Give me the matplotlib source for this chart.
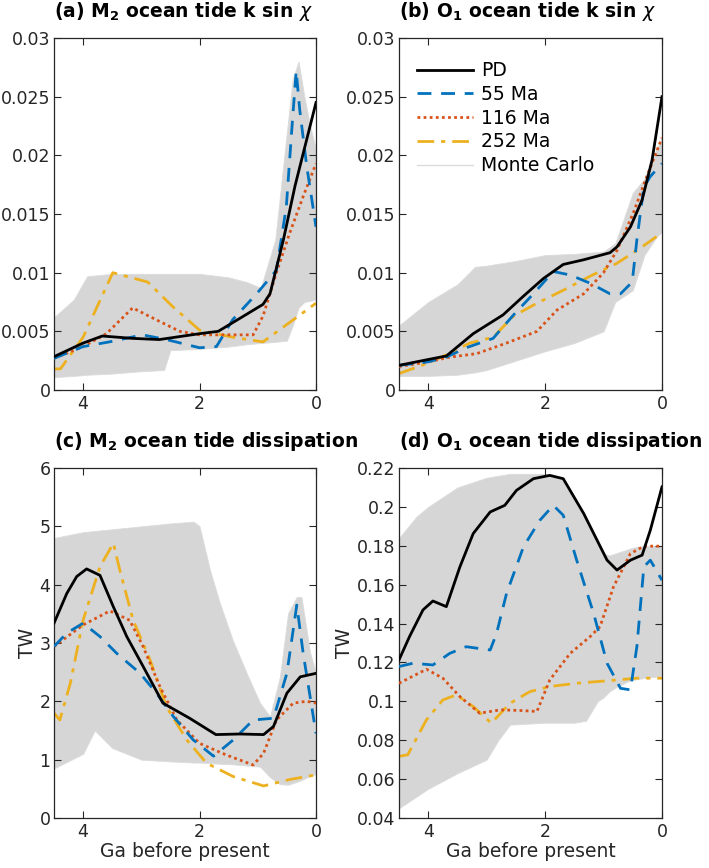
import numpy as np
import matplotlib
matplotlib.use('Agg')
import matplotlib.pyplot as plt
from matplotlib.lines import Line2D
from matplotlib.ticker import FuncFormatter

# ---- data (Ga before present, value) ----
# (a) M2 k sin chi
a_pd_x = [4.5, 4.0, 3.67, 3.15, 2.69, 2.0, 1.68, 1.31, 0.91, 0.79, 0.56, 0.36, 0.0]
a_pd_y = [0.00284, 0.0040, 0.0046, 0.0044, 0.0043, 0.0048, 0.0050, 0.0061, 0.0073, 0.0082, 0.0128, 0.0174, 0.0245]
a_55_x = [4.5, 4.0, 3.55, 2.98, 2.57, 2.0, 1.71, 1.43, 1.02, 0.68, 0.51, 0.42, 0.34, 0.28, 0.16, 0.0]
a_55_y = [0.0027, 0.0037, 0.0041, 0.0047, 0.0043, 0.0036, 0.0037, 0.0060, 0.0082, 0.0102, 0.0156, 0.0219, 0.0272, 0.0239, 0.0191, 0.0139]
a_116_x = [4.5, 4.0, 3.6, 3.15, 2.75, 2.34, 2.0, 1.43, 1.08, 0.91, 0.68, 0.45, 0.22, 0.0]
a_116_y = [0.0027, 0.0037, 0.0048, 0.0070, 0.0060, 0.0050, 0.0047, 0.0047, 0.0047, 0.0063, 0.0100, 0.0134, 0.0165, 0.0193]
a_252_x = [4.5, 4.39, 4.0, 3.49, 2.89, 2.46, 2.0, 1.43, 0.91, 0.0]
a_252_y = [0.0018, 0.0018, 0.0045, 0.0100, 0.0092, 0.0071, 0.0051, 0.0045, 0.0041, 0.0074]
a_mc_x = [4.5, 4.16, 3.93, 3.5, 3.0, 2.61, 2.5, 2.0, 1.5, 1.19, 0.95, 0.7, 0.5, 0.4, 0.3, 0.2, 0.1, 0.0]
a_mc_lo = [0.0011, 0.0012, 0.0013, 0.0014, 0.0016, 0.0017, 0.0034, 0.0035, 0.0037, 0.0039, 0.0040, 0.0041, 0.0042, 0.0055, 0.0070, 0.0075, 0.0076, 0.0077]
a_mc_hi = [0.0062, 0.0077, 0.0097, 0.0099, 0.0099, 0.0099, 0.0099, 0.0099, 0.0096, 0.0092, 0.0087, 0.0128, 0.0220, 0.0265, 0.0280, 0.0250, 0.0225, 0.0205]

# (b) O1 k sin chi
b_pd_x = [4.5, 4.0, 3.69, 3.23, 2.72, 2.37, 2.03, 1.69, 1.34, 0.89, 0.77, 0.54, 0.34, 0.17, 0.0]
b_pd_y = [0.0021, 0.0026, 0.0029, 0.0048, 0.0064, 0.0080, 0.0095, 0.0107, 0.0111, 0.0117, 0.0122, 0.0139, 0.0162, 0.0196, 0.0250]
b_55_x = [4.5, 4.0, 3.69, 3.35, 2.89, 2.54, 2.2, 1.86, 1.57, 1.23, 0.89, 0.71, 0.51, 0.43, 0.31, 0.2, 0.0]
b_55_y = [0.0021, 0.0024, 0.0028, 0.0036, 0.0044, 0.0064, 0.0082, 0.0101, 0.0098, 0.0091, 0.0082, 0.0082, 0.0092, 0.0128, 0.0173, 0.0182, 0.0193]
b_116_x = [4.5, 4.0, 3.63, 3.17, 2.66, 2.14, 1.8, 1.34, 1.0, 0.77, 0.49, 0.26, 0.0]
b_116_y = [0.0020, 0.0024, 0.0028, 0.0031, 0.0040, 0.0050, 0.0068, 0.0082, 0.0100, 0.0119, 0.0151, 0.0182, 0.0215]
b_252_x = [4.5, 4.0, 3.69, 3.29, 2.89, 2.54, 2.14, 1.69, 1.23, 0.77, 0.37, 0.0]
b_252_y = [0.0014, 0.0023, 0.0030, 0.0040, 0.0045, 0.0063, 0.0074, 0.0085, 0.0097, 0.0108, 0.0121, 0.0134]
b_mc_x = [4.5, 4.0, 3.5, 3.2, 3.0, 2.5, 2.0, 1.5, 1.0, 0.8, 0.5, 0.3, 0.1, 0.0]
b_mc_lo = [0.0012, 0.0012, 0.0013, 0.0015, 0.0017, 0.0025, 0.0033, 0.0040, 0.0050, 0.0075, 0.0085, 0.0115, 0.0130, 0.0135]
b_mc_hi = [0.0055, 0.0075, 0.0090, 0.0105, 0.0106, 0.0110, 0.0115, 0.0116, 0.0118, 0.0125, 0.0168, 0.0180, 0.0205, 0.0215]

# (c) M2 dissipation, TW
c_pd_x = [4.5, 4.28, 4.11, 3.94, 3.71, 3.48, 3.25, 2.97, 2.63, 2.17, 1.72, 1.31, 0.9, 0.73, 0.5, 0.27, 0.0]
c_pd_y = [3.34, 3.85, 4.14, 4.27, 4.16, 3.62, 3.11, 2.60, 1.97, 1.71, 1.43, 1.44, 1.43, 1.57, 2.14, 2.42, 2.48]
c_55_x = [4.5, 4.28, 4.0, 3.71, 3.42, 3.02, 2.74, 2.45, 2.11, 1.76, 1.42, 1.08, 0.73, 0.5, 0.33, 0.22, 0.0]
c_55_y = [2.94, 3.17, 3.34, 3.11, 2.82, 2.48, 2.14, 1.74, 1.34, 1.06, 1.34, 1.68, 1.71, 2.48, 3.65, 2.82, 1.45]
c_116_x = [4.5, 4.0, 3.54, 3.2, 2.97, 2.68, 2.39, 2.0, 1.54, 1.08, 0.9, 0.68, 0.39, 0.16, 0.0]
c_116_y = [2.94, 3.31, 3.55, 3.39, 2.94, 2.25, 1.68, 1.28, 1.08, 0.91, 1.11, 1.68, 1.97, 2.00, 1.97]
c_252_x = [4.5, 4.4, 4.22, 4.0, 3.71, 3.48, 3.37, 3.14, 2.85, 2.57, 2.22, 1.88, 1.42, 0.9, 0.45, 0.0]
c_252_y = [1.80, 1.68, 2.31, 3.39, 4.31, 4.71, 4.25, 3.39, 2.71, 1.91, 1.34, 0.94, 0.71, 0.55, 0.66, 0.74]
c_mc_x = [4.5, 4.0, 3.8, 3.5, 3.0, 2.5, 2.1, 2.0, 1.82, 1.65, 1.43, 1.19, 0.96, 0.79, 0.62, 0.48, 0.33, 0.25, 0.1, 0.0]
c_mc_lo = [0.85, 1.10, 1.50, 1.20, 1.00, 0.97, 0.95, 0.95, 0.94, 0.93, 0.92, 0.90, 0.88, 0.70, 0.58, 0.57, 0.62, 0.65, 0.72, 0.75]
c_mc_hi = [4.80, 4.90, 4.92, 4.95, 5.00, 5.05, 5.08, 5.00, 4.25, 3.68, 3.05, 2.48, 1.97, 1.74, 2.42, 3.51, 3.79, 3.79, 2.83, 2.48]

# (d) O1 dissipation, TW
d_pd_x = [4.5, 4.32, 4.09, 3.92, 3.69, 3.46, 3.23, 2.94, 2.69, 2.49, 2.2, 1.92, 1.69, 1.34, 0.94, 0.77, 0.54, 0.34, 0.2, 0.0]
d_pd_y = [0.1213, 0.1333, 0.1470, 0.1516, 0.1487, 0.1690, 0.1863, 0.1974, 0.2008, 0.2085, 0.2145, 0.2162, 0.2145, 0.1966, 0.1726, 0.1675, 0.1726, 0.1752, 0.1880, 0.2103]
d_55_x = [4.5, 4.26, 3.92, 3.63, 3.35, 2.94, 2.83, 2.66, 2.37, 2.09, 1.86, 1.69, 1.46, 1.17, 0.94, 0.71, 0.54, 0.43, 0.31, 0.2, 0.0]
d_55_y = [0.1179, 0.1196, 0.1187, 0.1247, 0.1281, 0.1264, 0.1350, 0.1555, 0.1795, 0.1931, 0.2008, 0.1957, 0.1726, 0.1452, 0.1196, 0.1067, 0.1059, 0.1281, 0.1692, 0.1726, 0.1623]
d_116_x = [4.5, 4.03, 3.75, 3.46, 3.12, 2.77, 2.43, 2.14, 1.92, 1.57, 1.23, 1.06, 0.83, 0.54, 0.31, 0.0]
d_116_y = [0.1093, 0.1165, 0.1119, 0.1025, 0.0939, 0.0956, 0.0953, 0.0948, 0.1110, 0.1247, 0.1333, 0.1384, 0.1589, 0.1760, 0.1798, 0.1798]
d_252_x = [4.5, 4.35, 4.03, 3.75, 3.52, 3.23, 2.92, 2.6, 2.26, 1.92, 1.46, 0.89, 0.43, 0.0]
d_252_y = [0.0717, 0.0725, 0.0905, 0.1007, 0.1033, 0.0973, 0.0888, 0.0990, 0.1050, 0.1076, 0.1093, 0.1107, 0.1119, 0.1119]
d_mc_x = [4.5, 4.2, 4.0, 3.5, 3.0, 2.8, 2.6, 2.0, 1.7, 1.5, 1.3, 1.1, 1.0, 0.9, 0.8, 0.6, 0.5, 0.3, 0.0]
d_mc_lo = [0.045, 0.051, 0.055, 0.063, 0.070, 0.080, 0.088, 0.089, 0.089, 0.089, 0.090, 0.100, 0.102, 0.105, 0.107, 0.110, 0.111, 0.112, 0.113]
d_mc_hi = [0.184, 0.195, 0.200, 0.210, 0.215, 0.216, 0.217, 0.217, 0.215, 0.205, 0.193, 0.182, 0.176, 0.175, 0.176, 0.178, 0.179, 0.180, 0.180]

titles = [r'(a) M$_\mathbf{2}$ ocean tide k sin $\chi$',
          r'(b) O$_\mathbf{1}$ ocean tide k sin $\chi$',
          r'(c) M$_\mathbf{2}$ ocean tide dissipation',
          r'(d) O$_\mathbf{1}$ ocean tide dissipation']
series_labels = ['PD', '55 Ma', '116 Ma', '252 Ma', 'Monte Carlo']

# MATLAB-like colours
c_pd = 'black'
c_55 = '#0072BD'
c_116 = '#D95319'
c_252 = '#EDB120'
c_mc = '#d6d6d6'
axcol = '#262626'

plt.rcParams['font.family'] = 'DejaVu Sans'
plt.rcParams['font.size'] = 12.5
plt.rcParams['axes.edgecolor'] = axcol
plt.rcParams['xtick.color'] = axcol
plt.rcParams['ytick.color'] = axcol
plt.rcParams['axes.labelcolor'] = axcol

fig = plt.figure(figsize=(7.09, 8.68), dpi=100)
W, H = 709.0, 868.0
boxes = [(54, 38, 262, 352), (399, 38, 263, 352),
         (54, 468, 262, 350), (399, 468, 263, 350)]
axes = [fig.add_axes([l / W, 1 - (t + h) / H, w / W, h / H]) for l, t, w, h in boxes]

panels = [
    (a_mc_x, a_mc_lo, a_mc_hi, a_pd_x, a_pd_y, a_55_x, a_55_y, a_116_x, a_116_y, a_252_x, a_252_y),
    (b_mc_x, b_mc_lo, b_mc_hi, b_pd_x, b_pd_y, b_55_x, b_55_y, b_116_x, b_116_y, b_252_x, b_252_y),
    (c_mc_x, c_mc_lo, c_mc_hi, c_pd_x, c_pd_y, c_55_x, c_55_y, c_116_x, c_116_y, c_252_x, c_252_y),
    (d_mc_x, d_mc_lo, d_mc_hi, d_pd_x, d_pd_y, d_55_x, d_55_y, d_116_x, d_116_y, d_252_x, d_252_y),
]
ylims = [(0, 0.03), (0, 0.03), (0, 6), (0.04, 0.22)]
yticks = [np.arange(0, 0.0301, 0.005), np.arange(0, 0.0301, 0.005),
          np.arange(0, 6.01, 1), np.arange(0.04, 0.2201, 0.02)]

for i, ax in enumerate(axes):
    mx, lo, hi, px, py, x55, y55, x116, y116, x252, y252 = panels[i]
    ax.fill_between(mx, lo, hi, color=c_mc, lw=0.6, edgecolor='#dcdcdc', zorder=1)
    ax.plot(px, py, color=c_pd, lw=2, zorder=5)
    ax.plot(x55, y55, color=c_55, lw=2, dashes=(5, 3.5), zorder=4)
    ax.plot(x116, y116, color=c_116, lw=2, dashes=(1, 1.2), zorder=3)
    ax.plot(x252, y252, color=c_252, lw=2, dashes=(6, 2.5, 1.5, 2.5), zorder=2)

    ax.set_xlim(4.5, 0)
    ax.set_ylim(*ylims[i])
    ax.set_xticks([4, 2, 0])
    ax.set_yticks(yticks[i])
    ax.yaxis.set_major_formatter(FuncFormatter(lambda v, p: '%g' % round(v, 4)))
    ax.tick_params(direction='in', top=True, right=True, length=5, width=0.8, labelsize=12.5)
    ax.tick_params(axis='y', pad=2.5)
    for s in ax.spines.values():
        s.set_linewidth(0.9)
    ax.set_title(titles[i], loc='left', fontweight='bold', fontsize=13.5, pad=15)
    if i >= 2:
        ax.set_xlabel('Ga before present', fontsize=13.5, labelpad=1)
        ax.set_ylabel('TW', fontsize=13.5, labelpad=2)

handles = [Line2D([], [], color=c_pd, lw=2),
           Line2D([], [], color=c_55, lw=2, dashes=(5, 3.5)),
           Line2D([], [], color=c_116, lw=2, dashes=(1, 1.2)),
           Line2D([], [], color=c_252, lw=2, dashes=(6, 2.5, 1.5, 2.5)),
           Line2D([], [], color='#dcdcdc', lw=1)]
axes[1].legend(handles, series_labels, loc='upper left', bbox_to_anchor=(0.04, 0.955),
               frameon=False, handlelength=3.0, handletextpad=0.4, labelspacing=0.25,
               fontsize=13.5, borderaxespad=0)

fig.savefig('out.png', dpi=100)
